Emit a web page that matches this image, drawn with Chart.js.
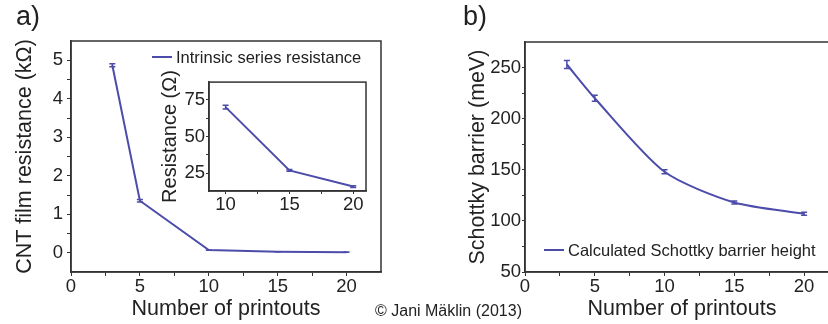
<!DOCTYPE html>
<html>
<head>
<meta charset="utf-8">
<script src="https://cdn.jsdelivr.net/npm/chart.js@4.4.1/dist/chart.umd.min.js"></script>
<style>
  body { margin: 0; width: 828px; height: 324px; overflow: hidden; position: relative; background: #fff;
         font-family: 'Liberation Sans', Arial, sans-serif; color: #222; }
  canvas { position: absolute; }
  .lbl { position: absolute; line-height: 1; white-space: nowrap; }
</style>
</head>
<body>
<canvas id="mainChart" width="414" height="324" style="left:0;top:0"></canvas>
<canvas id="insetChart" width="225" height="150" style="left:150px;top:70px"></canvas>
<canvas id="schottkyChart" width="440" height="324" style="left:414px;top:0"></canvas>
<div class="lbl" style="left:16px;top:3px;font-size:27px">a)</div>
<div class="lbl" style="left:463px;top:3px;font-size:27px">b)</div>
<div class="lbl" style="left:375px;top:303px;font-size:16px">© Jani Mäklin (2013)</div>
<script>
const printouts = [3, 5, 10, 15, 20];
const resistanceK = [4.87, 1.35, 0.07, 0.027, 0.016];
const resistanceKErr = [0.04, 0.03, 0.002, 0.001, 0.001];
const insetPrintouts = [10, 15, 20];
const insetResistance = [70, 27, 16];
const insetResistanceErr = [1.2, 0.6, 0.6];
const barrier = [253, 220, 148, 118, 107];
const barrierErr = [4, 3, 2, 1.5, 1.5];

const xTicks = [0, 5, 10, 15, 20];
const resTicks = [0, 1, 2, 3, 4, 5];
const insetXTicks = [10, 15, 20];
const insetYTicks = [25, 50, 75];
const barrierTicks = [50, 100, 150, 200, 250];

const blue = '#4c4caa';
const ink = '#222';
Chart.defaults.font.family = "'Liberation Sans', Arial, sans-serif";
Chart.defaults.color = ink;

// major ticks plus a minor one halfway between
function tickList(major, min, max) {
  const half = (major[1] - major[0]) / 2;
  const out = [];
  major.forEach(v => {
    if (v - half > min) out.push(v - half);
    if (v >= min && v <= max) out.push(v);
  });
  const last = major[major.length - 1] + half;
  if (last < max) out.push(last);
  return out;
}

function axis(major, title, o) {
  return {
    type: 'linear', min: o.min, max: o.max,
    afterBuildTicks: s => { s.ticks = tickList(major, o.min, o.max).map(v => ({ value: v })); },
    afterFit: s => { if (s.isHorizontal()) s.height = o.size; else s.width = o.size; },
    ticks: {
      autoSkip: false, maxRotation: 0, padding: o.pad, color: ink,
      font: { size: o.tickSize || 18.5 },
      callback: v => major.includes(v) ? v : ''
    },
    grid: { drawOnChartArea: false, drawTicks: true, tickLength: o.tl || 4, tickColor: '#333', tickWidth: 1 },
    border: { display: true, color: '#333', width: 1.5 },
    title: { display: true, text: title, color: ink, font: { size: o.titleSize || 21.5 }, padding: o.titlePad }
  };
}

const frame = {
  id: 'frame',
  afterDraw(chart) {
    const { ctx, chartArea: a } = chart;
    ctx.save();
    ctx.strokeStyle = '#333';
    ctx.lineWidth = 1.5;
    ctx.strokeRect(a.left, a.top, a.right - a.left, a.bottom - a.top);
    ctx.restore();
  }
};

const errorBars = {
  id: 'errorBars',
  afterDatasetsDraw(chart) {
    const { ctx, scales: { x, y } } = chart;
    chart.data.datasets.forEach(ds => {
      if (!ds.errors) return;
      ctx.save();
      ctx.strokeStyle = ds.borderColor;
      ctx.lineWidth = 1.5;
      ds.data.forEach((p, i) => {
        const px = x.getPixelForValue(p.x);
        const top = y.getPixelForValue(p.y + ds.errors[i]);
        const bot = y.getPixelForValue(p.y - ds.errors[i]);
        ctx.beginPath();
        ctx.moveTo(px, top); ctx.lineTo(px, bot);
        ctx.moveTo(px - 3, top); ctx.lineTo(px + 3, top);
        ctx.moveTo(px - 3, bot); ctx.lineTo(px + 3, bot);
        ctx.stroke();
      });
      ctx.restore();
    });
  }
};

const lineLegend = {
  id: 'lineLegend',
  afterDraw(chart, args, opts) {
    if (!opts.show) return;
    const ds = chart.data.datasets[0];
    const { ctx } = chart;
    ctx.save();
    ctx.strokeStyle = ds.borderColor;
    ctx.lineWidth = 2;
    ctx.beginPath();
    ctx.moveTo(opts.x, opts.y);
    ctx.lineTo(opts.x + 20, opts.y);
    ctx.stroke();
    ctx.fillStyle = ink;
    ctx.font = "16.5px 'Liberation Sans', Arial, sans-serif";
    ctx.textBaseline = 'middle';
    ctx.fillText(ds.label, opts.x + 24, opts.y + 1);
    ctx.restore();
  }
};

function pts(xs, ys) { return xs.map((x, i) => ({ x, y: ys[i] })); }

function lineChart(id, ds, scales, padding, legend) {
  return new Chart(document.getElementById(id), {
    type: 'line',
    data: { datasets: [Object.assign({
      borderColor: blue, borderWidth: 2, pointRadius: 0, fill: false
    }, ds)] },
    options: {
      responsive: false, animation: false,
      layout: { padding },
      scales,
      plugins: { legend: { display: false }, tooltip: { enabled: false }, lineLegend: legend }
    },
    plugins: [frame, errorBars, lineLegend]
  });
}

lineChart('mainChart',
  { label: 'Intrinsic series resistance', data: pts(printouts, resistanceK), errors: resistanceKErr },
  {
    x: axis(xTicks, 'Number of printouts', { min: 0, max: 22.5, size: 52, pad: 0, titlePad: { top: 0, bottom: 2 } }),
    y: axis(resTicks, 'CNT film resistance (kΩ)', { min: -0.5, max: 5.5, size: 71, pad: 4, titlePad: { top: 12, bottom: 0 } })
  },
  { top: 41, right: 33, left: 0, bottom: 0 },
  { show: true, x: 152, y: 57 });

lineChart('insetChart',
  { label: 'Inset', data: pts(insetPrintouts, insetResistance), errors: insetResistanceErr },
  {
    x: axis(insetXTicks, '', { min: 8.7, max: 21, size: 29, pad: 0, tl: 3 }),
    y: axis(insetYTicks, 'Resistance (Ω)', { min: 13, max: 87, size: 59, pad: 1, tl: 3, titleSize: 20, titlePad: { top: 8, bottom: 0 } })
  },
  { top: 6, right: 9, left: 0, bottom: 0 },
  { show: false });

lineChart('schottkyChart',
  { label: 'Calculated Schottky barrier height', data: pts(printouts, barrier), errors: barrierErr,
    tension: 0.25 },
  {
    x: axis(xTicks, 'Number of printouts', { min: 0, max: 22.5, size: 52, pad: 0, titlePad: { top: 0, bottom: 2 } }),
    y: axis(barrierTicks, 'Schottky barrier (meV)', { min: 50, max: 275, size: 111, pad: 1, tl: 3, titlePad: { top: 51, bottom: 0 } })
  },
  { top: 42, right: 15, left: 0, bottom: 0 },
  { show: true, x: 130, y: 250 });
</script>
</body>
</html>
